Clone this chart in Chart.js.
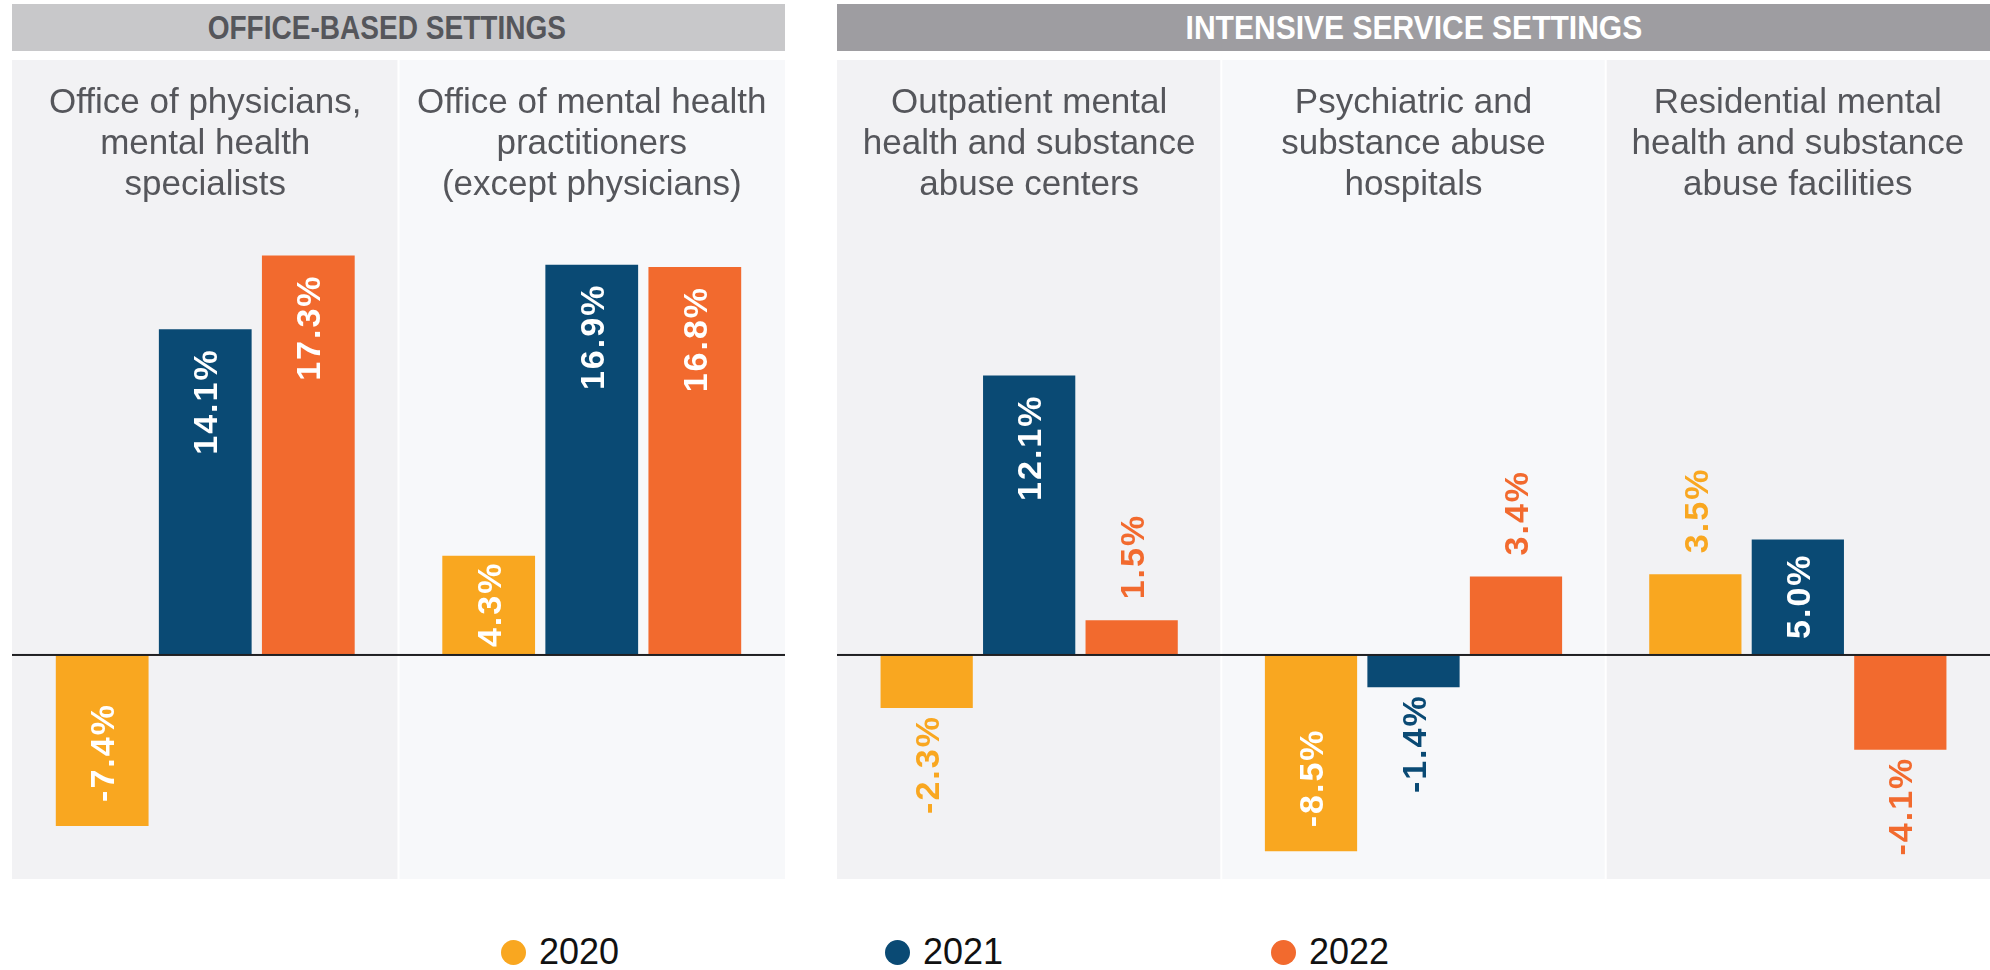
<!DOCTYPE html>
<html>
<head>
<meta charset="utf-8">
<script src="https://cdn.jsdelivr.net/npm/chart.js@4.4.1/dist/chart.umd.min.js"></script>
<style>
  html, body { margin: 0; padding: 0; background: #ffffff; }
  body { width: 1990px; height: 970px; position: relative; overflow: hidden; font-family: "Liberation Sans", Arial, sans-serif; }
  .band { position: absolute; top: 4px; height: 47px; display: flex; align-items: center; justify-content: center;
          font-family: "Liberation Sans", Arial, sans-serif; font-weight: bold; font-size: 33px; }
  .band span { display: inline-block; white-space: nowrap; }
  #bandOffice { left: 12px; width: 773px; background: #c8c8ca; color: #55565b; }
  #bandOffice span { transform: translateX(-12px) scaleX(0.85); }
  #bandIntensive { left: 837px; width: 1153px; background: #9e9da1; color: #ffffff; }
  #bandIntensive span { transform: scaleX(0.91); }
  .wrap { position: absolute; top: 60px; height: 819px; }
  #wrapOffice { left: 12px; width: 773px; }
  #wrapIntensive { left: 837px; width: 1153px; }
  .legend { position: absolute; top: 930px; height: 44px; display: flex; align-items: center; font-size: 36px; color: #111; }
  .legend .dot { width: 25px; height: 25px; border-radius: 50%; margin-right: 13px; }
</style>
</head>
<body>
<div class="band" id="bandOffice"><span></span></div>
<div class="band" id="bandIntensive"><span></span></div>
<div class="wrap" id="wrapOffice"><canvas id="chartOffice" width="773" height="819"></canvas></div>
<div class="wrap" id="wrapIntensive"><canvas id="chartIntensive" width="1153" height="819"></canvas></div>
<div id="legendBox"></div>

<script>
// Setting groups
const GROUP_TITLES = ["OFFICE-BASED SETTINGS", "INTENSIVE SERVICE SETTINGS"];

// Categories (one panel per category, title lines stacked)
const OFFICE_CATEGORIES = [
  ["Office of physicians,", "mental health", "specialists"],
  ["Office of mental health", "practitioners", "(except physicians)"]
];
const INTENSIVE_CATEGORIES = [
  ["Outpatient mental", "health and substance", "abuse centers"],
  ["Psychiatric and", "substance abuse", "hospitals"],
  ["Residential mental", "health and substance", "abuse facilities"]
];

// Years shown as series
const YEARS = ["2020", "2021", "2022"];
const YEAR_COLORS = ["#f9a720", "#0a4a74", "#f26a2e"];

// Percent change by year, office-based settings
const OFFICE_2020 = [-7.4, 4.3];
const OFFICE_2021 = [14.1, 16.9];
const OFFICE_2022 = [17.3, 16.8];

// Percent change by year, intensive service settings
const INTENSIVE_2020 = [-2.3, -8.5, 3.5];
const INTENSIVE_2021 = [12.1, -1.4, 5.0];
const INTENSIVE_2022 = [1.5, 3.4, -4.1];

// Shared value range of the y axis
const Y_MIN = -9.7;
const Y_MAX = 25.76;

document.querySelector('#bandOffice span').textContent = GROUP_TITLES[0];
document.querySelector('#bandIntensive span').textContent = GROUP_TITLES[1];

const PANEL_COLORS = ["#f2f2f4", "#f7f8fa"];
const TITLE_FONT = '35px "Liberation Sans", Arial, sans-serif';
const LABEL_PX = 34;
const LABEL_FONT = 'bold ' + LABEL_PX + 'px "Liberation Sans", Arial, sans-serif';
const LABEL_SPACING = 2;

// Panel backgrounds and panel titles, one per category slot
const panelPlugin = {
  id: 'panels',
  beforeDraw(chart) {
    const { ctx, chartArea, scales: { x } } = chart;
    const n = chart.data.labels.length;
    const slot = (chartArea.right - chartArea.left) / n;
    ctx.save();
    for (let i = 0; i < n; i++) {
      const cx = x.getPixelForValue(i);
      ctx.fillStyle = PANEL_COLORS[i % 2];
      ctx.fillRect(cx - slot / 2, 0, slot, chart.height);
    }
    ctx.fillStyle = '#ffffff';
    for (let i = 1; i < n; i++) {
      const bx = x.getPixelForValue(i) - slot / 2;
      ctx.fillRect(bx - 1, 0, 2, chart.height);
    }
    ctx.font = TITLE_FONT;
    ctx.fillStyle = '#55565b';
    ctx.textAlign = 'center';
    ctx.textBaseline = 'middle';
    chart.data.labels.forEach((lines, i) => {
      const cx = x.getPixelForValue(i);
      lines.forEach((line, k) => ctx.fillText(line, cx, 43 + k * 41));
    });
    ctx.restore();
  }
};

// Zero baseline and rotated value labels
const labelPlugin = {
  id: 'valueLabels',
  afterDatasetsDraw(chart) {
    const { ctx, chartArea, scales: { y } } = chart;
    const y0 = y.getPixelForValue(0);
    ctx.save();
    ctx.fillStyle = '#1f1f22';
    ctx.fillRect(chartArea.left, y0 - 1, chartArea.right - chartArea.left, 2);

    ctx.font = LABEL_FONT;
    ctx.letterSpacing = LABEL_SPACING + 'px';
    const capHalf = LABEL_PX * 0.716 / 2;
    chart.data.datasets.forEach((ds, di) => {
      const meta = chart.getDatasetMeta(di);
      meta.data.forEach((bar, i) => {
        const v = ds.data[i];
        const txt = v.toFixed(1) + '%';
        const len = ctx.measureText(txt).width - LABEL_SPACING;
        const barLen = Math.abs(bar.base - bar.y);
        const inside = len + 12 <= barLen;
        const pad = Math.min(v >= 0 ? 21 : 24, (barLen - len) / 2);
        let start; // screen y where the text begins (its lower end)
        if (v >= 0) {
          start = inside ? bar.y + pad + len : bar.y - 21;
        } else {
          start = inside ? bar.y - pad : bar.y + 9 + len;
        }
        ctx.fillStyle = inside ? '#ffffff' : ds.backgroundColor;
        ctx.save();
        ctx.translate(bar.x, start);
        ctx.rotate(-Math.PI / 2);
        ctx.textAlign = 'left';
        ctx.textBaseline = 'alphabetic';
        ctx.fillText(txt, 0, capHalf);
        ctx.restore();
      });
    });
    ctx.restore();
  }
};

function buildChart(canvasId, categories, series) {
  return new Chart(document.getElementById(canvasId), {
    type: 'bar',
    data: {
      labels: categories,
      datasets: series.map((values, k) => ({
        label: YEARS[k],
        data: values,
        backgroundColor: YEAR_COLORS[k],
        borderWidth: 0,
        categoryPercentage: 0.8,
        barPercentage: 0.9
      }))
    },
    options: {
      responsive: false,
      animation: false,
      layout: { padding: 0 },
      plugins: { legend: { display: false }, tooltip: { enabled: false } },
      scales: {
        x: { display: false },
        y: { display: false, min: Y_MIN, max: Y_MAX }
      }
    },
    plugins: [panelPlugin, labelPlugin]
  });
}

buildChart('chartOffice', OFFICE_CATEGORIES, [OFFICE_2020, OFFICE_2021, OFFICE_2022]);
buildChart('chartIntensive', INTENSIVE_CATEGORIES, [INTENSIVE_2020, INTENSIVE_2021, INTENSIVE_2022]);

// Legend entries
const LEGEND_X = [501, 885, 1271];
const legendBox = document.getElementById('legendBox');
YEARS.forEach((yr, k) => {
  const item = document.createElement('div');
  item.className = 'legend';
  item.style.left = LEGEND_X[k] + 'px';
  const dot = document.createElement('span');
  dot.className = 'dot';
  dot.style.background = YEAR_COLORS[k];
  const txt = document.createElement('span');
  txt.textContent = yr;
  item.appendChild(dot);
  item.appendChild(txt);
  legendBox.appendChild(item);
});
</script>
</body>
</html>
